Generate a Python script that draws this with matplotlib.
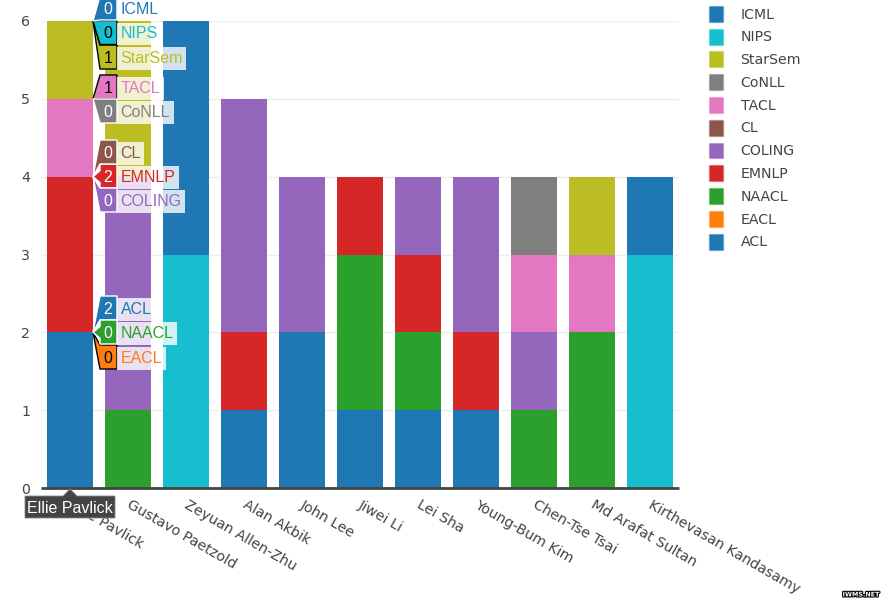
import matplotlib
matplotlib.use("Agg")
import matplotlib.pyplot as plt
import matplotlib.patheffects as pe
from matplotlib.patches import Patch, Polygon
from matplotlib.transforms import Affine2D
import numpy as np

authors = ["Ellie Pavlick", "Gustavo Paetzold", "Zeyuan Allen-Zhu", "Alan Akbik", "John Lee",
           "Jiwei Li", "Lei Sha", "Young-Bum Kim", "Chen-Tse Tsai", "Md Arafat Sultan",
           "Kirthevasan Kandasamy"]
ACL     = [2, 0, 0, 1, 2, 1, 1, 1, 0, 0, 0]
EACL    = [0, 0, 0, 0, 0, 0, 0, 0, 0, 0, 0]
NAACL   = [0, 1, 0, 0, 0, 2, 1, 0, 1, 2, 0]
EMNLP   = [2, 0, 0, 1, 0, 1, 1, 1, 0, 0, 0]
COLING  = [0, 3, 0, 3, 2, 0, 1, 2, 1, 0, 0]
CL      = [0, 0, 0, 0, 0, 0, 0, 0, 0, 0, 0]
TACL    = [1, 0, 0, 0, 0, 0, 0, 0, 1, 1, 0]
CoNLL   = [0, 0, 0, 0, 0, 0, 0, 0, 1, 0, 0]
StarSem = [1, 2, 0, 0, 0, 0, 0, 0, 0, 1, 0]
NIPS    = [0, 0, 3, 0, 0, 0, 0, 0, 0, 0, 3]
ICML    = [0, 0, 3, 0, 0, 0, 0, 0, 0, 0, 1]

stack_names = ["ACL", "EACL", "NAACL", "EMNLP", "COLING", "CL", "TACL", "CoNLL", "StarSem", "NIPS", "ICML"]
stack_values = [ACL, EACL, NAACL, EMNLP, COLING, CL, TACL, CoNLL, StarSem, NIPS, ICML]
stack_colors = ["#1f77b4", "#ff7f0e", "#2ca02c", "#d62728", "#9467bd", "#8c564b", "#e377c2",
                "#7f7f7f", "#bcbd22", "#17becf", "#1f77b4"]
hover_rows = {"ICML": 8, "NIPS": 32.5, "StarSem": 57, "TACL": 87, "CoNLL": 111, "CL": 152,
              "EMNLP": 176, "COLING": 200, "ACL": 308, "NAACL": 332, "EACL": 357}
dark_text = {"NIPS", "StarSem", "TACL", "EACL"}

W, H = 894, 607
INK = "#444444"
fig = plt.figure(figsize=(W / 100, H / 100), dpi=100)
ax = fig.add_axes([41 / W, (H - 488) / H, 638 / W, 467 / H])
px = Affine2D().scale(1, -1).translate(0, H)   # pixel coordinates, origin top-left

x = np.arange(len(authors))
bottom = np.zeros(len(authors))
tops = {}
for name, vals, col in zip(stack_names, stack_values, stack_colors):
    ax.bar(x, vals, 0.793, bottom=bottom, color=col, linewidth=0, zorder=3)
    bottom = bottom + np.array(vals)
    tops[name] = bottom[0]

ax.set_xlim(-0.5, 10.5)
ax.set_ylim(0, 6)
ax.set_yticks(range(7))
ax.set_xticks(x + 0.052)   # labels start slightly right of the bar centre; ticks are invisible
ax.set_xticklabels(authors, rotation=-30, ha="left", va="top", rotation_mode="anchor",
                   fontsize=10.3, color=INK)
ax.tick_params(axis="x", length=0, pad=7)
ax.tick_params(axis="y", length=0, pad=8, labelsize=10.2, labelcolor=INK)
ax.grid(axis="y", color="#eeeeee", linewidth=1, zorder=0)
ax.set_axisbelow(True)
for s in ("top", "right", "left"):
    ax.spines[s].set_visible(False)
ax.spines["bottom"].set_color(INK)
ax.spines["bottom"].set_linewidth(2)
ax.spines["bottom"].set_capstyle("butt")
ax.spines["bottom"].set_zorder(4)

# legend, listed from the top of the stack down
handles = [Patch(facecolor=c, edgecolor=c + "55", linewidth=1, label=n)
           for n, c in zip(stack_names[::-1], stack_colors[::-1])]
fig.legend(handles=handles, loc="upper left", bbox_to_anchor=(703 / W, 1 + 0.5 / H), frameon=False,
           fontsize=10.2, labelcolor=INK, handlelength=0.95, handleheight=1.35, handletextpad=1.25,
           labelspacing=0.485, borderaxespad=0, borderpad=0.45)

# hover labels for the first bar
edge_px = ax.transData.transform((0.3965, 0))[0]
box_l, box_r = edge_px + 7, edge_px + 24
for name, vals, col in zip(stack_names, stack_values, stack_colors):
    cy = hover_rows[name]
    ay = H - ax.transData.transform((0, tops[name]))[1]
    top, bot = cy - 12, cy + 12
    dark = name in dark_text
    fc = "black" if dark else "white"
    if top + 6 < ay < bot - 6:
        pts = [(edge_px, ay), (box_l, ay - 6), (box_l, top), (box_r, top), (box_r, bot), (box_l, bot), (box_l, ay + 6)]
    else:
        pts = [(edge_px, ay), (box_l, top), (box_r, top), (box_r, bot), (box_l, bot)]
    fig.add_artist(Polygon(pts, closed=True, transform=px, facecolor=col, edgecolor=fc,
                           linewidth=1, zorder=10))
    fig.text(box_r + 3.5, cy, name, transform=px, color=col, fontsize=11.5, family="Liberation Sans",
             ha="left", va="center_baseline", zorder=11,
             bbox=dict(boxstyle="square,pad=0.22", facecolor="white", edgecolor="none", alpha=0.8))
    fig.text((box_l + box_r) / 2 - 0.5, cy, str(vals[0]), transform=px, color=fc, fontsize=11.5,
             family="Liberation Sans", ha="center", va="center_baseline", zorder=12)

# x-axis spike label
bx = ax.transData.transform((0, 0))[0]
fig.add_artist(Polygon([(bx, 489), (bx + 7, 496), (115, 496), (115, 518), (25, 518), (25, 496), (bx - 7, 496)],
                       closed=True, transform=px, facecolor=INK, edgecolor="#888888", linewidth=0.6, zorder=10))
fig.text(bx, 507, authors[0], transform=px, color="white", fontsize=11.5, family="Liberation Sans",
         ha="center", va="center_baseline", zorder=12)

fig.text(861, 595, "IWMS.NET", transform=px, color="white", fontsize=4.6, fontweight="bold",
         family="DejaVu Sans", ha="center", va="center",
         path_effects=[pe.withStroke(linewidth=1.6, foreground="black")], zorder=12)

fig.savefig("out.png", dpi=100)
